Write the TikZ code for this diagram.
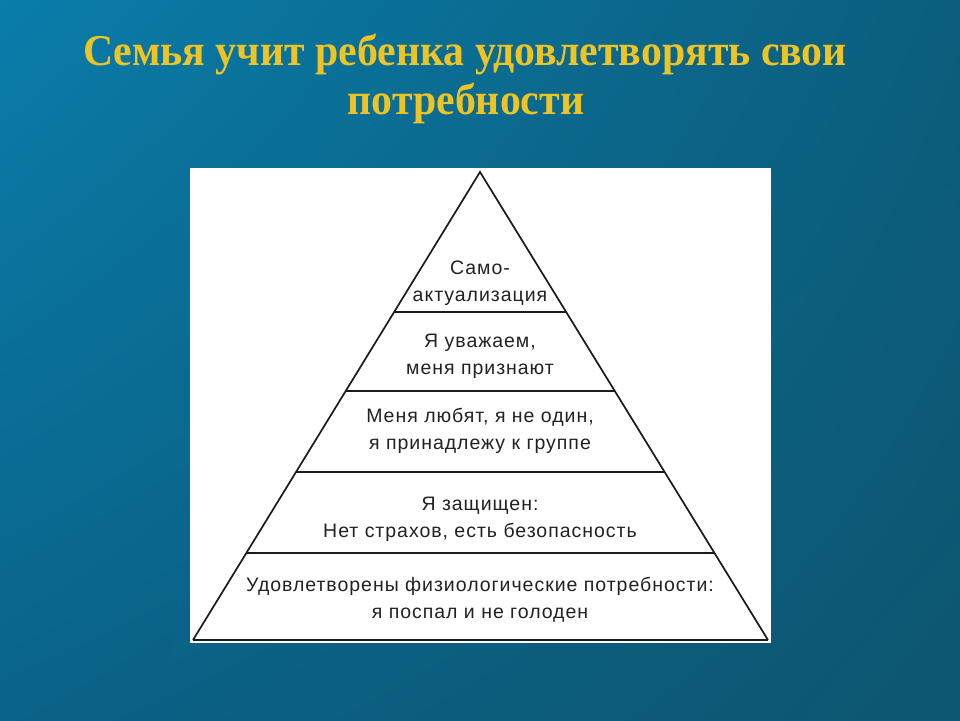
\documentclass[tikz,border=0pt]{standalone}
\usepackage{fontspec}
\usetikzlibrary{calc,shadings}
\setmainfont{Liberation Serif}
\newfontfamily\titlefont{Liberation Serif}[FakeStretch=0.95]
\newfontfamily\pyrfont{Liberation Sans}[LetterSpace=5]
\definecolor{bgUL}{RGB}{10,125,170}
\definecolor{bgUR}{RGB}{11,94,125}
\definecolor{bgLL}{RGB}{10,99,136}
\definecolor{bgLR}{RGB}{13,86,112}
\definecolor{titleyellow}{RGB}{238,196,36}
\definecolor{inkline}{RGB}{26,26,36}
\definecolor{inktext}{RGB}{34,34,34}
\tikzset{
  titletext/.style={anchor=base, text=titleyellow, font=\titlefont\bfseries\fontsize{44}{48}\selectfont, inner sep=0pt},
  leveltext/.style={align=center, text=inktext, font=\pyrfont\fontsize{19.5}{27}\selectfont, inner sep=0pt},
  pyrline/.style={draw=inkline, line width=1.7pt},
  baseedge/.style={draw=inkline, line width=2.6pt}
}
\begin{document}
\begin{tikzpicture}[x=1pt,y=-1pt]
\useasboundingbox (0,0) rectangle (960,720);
\shade[upper left=bgUL, upper right=bgUR, lower left=bgLL, lower right=bgLR] (0,0) rectangle (960,720);
\node[titletext] (t1) at (465,65) {Семья учит ребенка удовлетворять свои};
\node[titletext] (t2) at (466,114) {потребности};
\fill[white] (190,168) rectangle (771,643);
\coordinate (A) at (480,172);
\coordinate (BL) at (193,640);
\coordinate (BR) at (768,640);
\draw[pyrline, line join=miter] (BL) -- (A) -- (BR);
\draw[baseedge] (BL) -- (BR);
\foreach \t/\n in {0.2991/a,0.4679/b,0.6410/c,0.8141/d}{
  \coordinate (L\n) at ($(A)!\t!(BL)$);
  \coordinate (R\n) at ($(A)!\t!(BR)$);
  \draw[pyrline] (L\n) -- (R\n);
}
\node[leveltext] (l1) at (480,283) {Само-\\актуализация};
\node[leveltext] (l2) at (480,356) {Я уважаем,\\меня признают};
\node[leveltext] (l3) at (480,431) {Меня любят, я не один,\\я принадлежу к группе};
\node[leveltext] (l4) at (480,519) {Я защищен:\\Нет страхов, есть безопасность};
\node[leveltext] (l5) at (480,600) {Удовлетворены физиологические потребности:\\я поспал и не голоден};
\end{tikzpicture}
\end{document}
